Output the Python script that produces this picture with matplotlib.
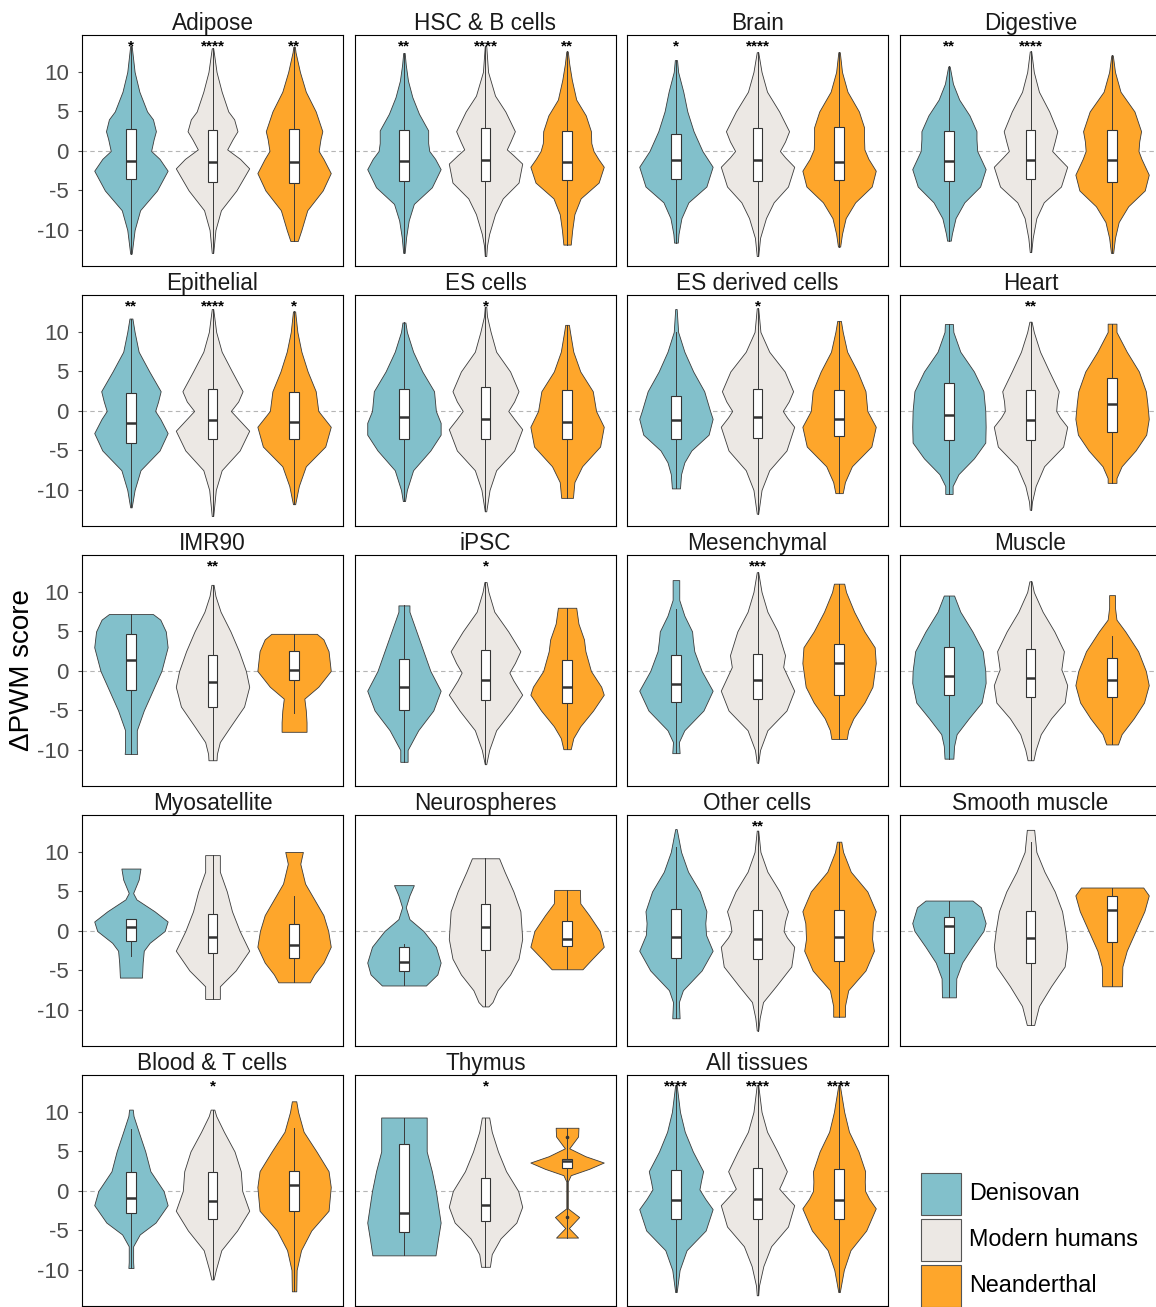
import numpy as np
import matplotlib
matplotlib.use("Agg")
import matplotlib.pyplot as plt
from matplotlib.patches import Rectangle

plt.rcParams['font.family'] = ['Liberation Sans', 'DejaVu Sans']

# ---------------- data ----------------
tissues = ["Adipose", "HSC & B cells", "Brain", "Digestive",
           "Epithelial", "ES cells", "ES derived cells", "Heart",
           "IMR90", "iPSC", "Mesenchymal", "Muscle",
           "Myosatellite", "Neurospheres", "Other cells", "Smooth muscle",
           "Blood & T cells", "Thymus", "All tissues"]
groups = ["Denisovan", "Modern humans", "Neanderthal"]
group_colors = ["#82c0cb", "#ece8e4", "#fea62b"]

# significance labels per tissue (Denisovan, Modern humans, Neanderthal)
stars = [("*", "****", "**"), ("**", "****", "**"), ("*", "****", ""), ("**", "****", ""),
         ("**", "****", "*"), ("", "*", ""), ("", "*", ""), ("", "**", ""),
         ("", "**", ""), ("", "*", ""), ("", "***", ""), ("", "", ""),
         ("", "", ""), ("", "", ""), ("", "**", ""), ("", "", ""),
         ("", "*", ""), ("", "*", ""), ("****", "****", "****")]

# density profile knots: y values (score) and relative widths
shape_y = [
    # Adipose
    [[-13.0, -10, -7.5, -5, -2.5, -1, 0, 1.5, 2.5, 4, 5, 7.5, 10, 13.3],
     [-12.9, -10, -7.5, -5, -2.2, -1, 0.2, 1.5, 2.5, 4, 5, 7.5, 10, 13.0],
     [-11.4, -10, -7.5, -5, -2.8, -1, 0, 1.5, 2.5, 5, 7.5, 10, 12.5, 13.2]],
    # HSC & B cells
    [[-12.9, -10.9, -8.8, -6.7, -4.6, -2.3, -1, 0, 1, 2.6, 4.7, 6.8, 8.9, 10.9, 12.4],
     [-13.3, -12, -10.5, -8, -6, -4, -1.6, -0.5, 0.2, 1.2, 2.5, 5, 7, 10, 13.3],
     [-11.85, -10, -8, -6, -4, -2, -1, 0, 1, 2.5, 4.5, 6.5, 9, 11, 12.6]],
    # Brain
    [[-11.6, -10.5, -8.5, -6.5, -4.5, -2, 0, 2.5, 5, 7.5, 10, 11.5],
     [-13.3, -11, -8.5, -6.5, -4.5, -2, -0.8, 0, 1.2, 2.5, 5, 7.5, 10, 12.5],
     [-12.1, -10.5, -8.5, -6.5, -4.5, -2.5, -1, 0.2, 1.5, 3, 5, 7.5, 10, 12.5]],
    # Digestive
    [[-11.35, -10.5, -8.5, -6.5, -4.5, -2.3, 0, 1.5, 2.5, 4.5, 6.5, 8.5, 10.7],
     [-12.8, -11, -8.5, -6.5, -4.5, -2, -0.8, 0, 1.2, 2.5, 5, 7.5, 10, 12.6],
     [-12.9, -11, -9, -7, -5, -3, -1, 0, 1.2, 2.5, 5, 7.5, 10, 12.1]],
    # Epithelial
    [[-12.2, -10, -7.5, -5, -2.8, -1, 0, 1.2, 2.5, 5, 7.5, 10, 11.7],
     [-13.3, -10, -7.5, -5, -2.5, -1, 0, 1.2, 2.5, 5, 7.5, 10, 12.9],
     [-11.8, -9.5, -7, -4.5, -2, 0, 2.5, 5, 7.5, 10, 12.6]],
    # ES cells
    [[-11.4, -10, -7.5, -5, -3, -1.5, 0, 2.5, 5, 7.5, 10, 11.2],
     [-12.7, -10, -7.5, -5, -2.3, -1, 0, 1.2, 2.5, 5, 7.5, 10, 12, 13.2],
     [-11.0, -9, -7, -4.5, -2, 0, 2.5, 5, 7.5, 10, 10.9]],
    # ES derived cells
    [[-9.8, -8, -6.5, -5, -3, -1, 0, 2.5, 5, 7.5, 10, 12.9],
     [-13.0, -10, -7.5, -5, -2, -0.8, 0, 1.2, 2.5, 5, 7.5, 10, 13.0],
     [-10.4, -9, -7, -4.5, -2, 0, 2.5, 5, 7.5, 10, 11.4]],
    # Heart
    [[-10.5, -9.5, -8, -6, -4, -2, 0, 2.5, 5, 7.5, 10, 11.0],
     [-12.5, -11.5, -9.5, -7, -4.5, -2, -0.8, 0, 1.2, 2.5, 5, 7.5, 10, 11.3],
     [-9.1, -8.5, -7, -5, -3, -1, 1, 2.5, 5, 7.5, 10, 11.05]],
    # IMR90
    [[-10.5, -10, -7.5, -5, -2.5, 0, 3, 5, 6.5, 7.2],
     [-11.3, -10.5, -9, -7, -4.5, -2, 0, 2.5, 5, 7.5, 9.5, 10.9],
     [-7.7, -6.5, -5, -3.5, -2, 0, 2.5, 4, 4.7]],
    # iPSC
    [[-11.5, -10, -7.5, -5, -2.5, 0, 2.5, 5, 7.5, 8.3],
     [-11.8, -10, -7.5, -5, -3, -1.2, -0.2, 1, 2.5, 5, 7.5, 10, 11.25],
     [-9.9, -8.5, -7, -5, -3, -2, 0, 2.5, 4, 6, 8.0]],
    # Mesenchymal
    [[-10.4, -9, -7.5, -5, -2.5, 0, 2.5, 4, 5, 7, 9, 11.5],
     [-11.6, -10, -7.5, -5, -2.5, 0.5, 2, 5, 7.5, 10, 12.5],
     [-8.6, -7.5, -6, -4, -2, 1, 3, 5, 7.5, 10, 11.05]],
    # Muscle
    [[-11.1, -9.5, -8, -6, -4, -1.5, 0, 2.5, 5, 7.5, 9.55],
     [-11.3, -10, -8, -6, -4, -1.8, -0.5, 0.2, 1.2, 2.5, 5, 7.5, 10, 11.35],
     [-9.3, -8, -6, -4, -1.8, 0, 2.5, 5, 6.5, 8, 9.6]],
    # Myosatellite
    [[-5.9, -4, -2.5, -1.5, 0, 1.2, 2.5, 4, 4.8, 6.5, 7.9],
     [-8.6, -7, -5, -2.5, 0, 2.5, 5, 7.5, 9.6],
     [-6.5, -5.5, -4, -2, 0, 2, 4, 6, 8.5, 10.0]],
    # Neurospheres
    [[-6.9, -5.5, -4, -2, 0, 1.5, 3, 4.5, 5.8],
     [-9.55, -9, -7.5, -5.5, -3.5, -1, 2.5, 5, 7.5, 9.2],
     [-4.85, -3.5, -2, 0, 2, 3.5, 5.2]],
    # Other cells
    [[-11.05, -9, -7.5, -5, -2.5, -0.5, 1, 2.5, 5, 7.5, 10, 12.9],
     [-12.6, -11, -9, -7, -4.5, -2, -0.8, 0, 1.2, 2.5, 5, 7.5, 10, 12.7],
     [-10.85, -9.5, -7.5, -5, -2.5, -1, 0, 1, 2.5, 5, 7.5, 10, 11.3]],
    # Smooth muscle
    [[-8.4, -6, -4, -2, 0, 1, 3, 3.85],
     [-11.9, -9.5, -7, -4.5, -2, 0, 2.5, 5, 7.5, 10, 12.8],
     [-7.0, -4.5, -2.5, 0, 2.5, 4.5, 5.5]],
    # Blood & T cells
    [[-9.75, -9, -7, -5.5, -4, -1.8, 0, 2.5, 5, 7.5, 9.5, 10.3],
     [-11.2, -10, -7.5, -5, -2.5, 0, 2.5, 5, 7.5, 9.5, 10.3],
     [-12.7, -10, -7.5, -5, -2.5, 0.5, 2.5, 5, 7.5, 10, 11.35]],
    # Thymus
    [[-8.15, -6, -4, 0, 2.5, 5, 7.5, 9.3],
     [-9.6, -8, -6, -4, -2, 0, 2.5, 5, 7.5, 9.3],
     [-5.9, -4.7, -3.3, -2.2, 1.2, 2.0, 2.8, 3.6, 4.4, 5.4, 6.9, 8.0]],
    # All tissues
    [[-12.8, -10, -7.5, -5, -2.3, -1, 0.2, 1.2, 2.5, 5, 7.5, 10, 13.4],
     [-13.2, -12, -9.5, -7, -4.5, -1.8, -0.7, 0.3, 1.2, 2.5, 5, 7.5, 10, 13.4],
     [-12.8, -10, -7.5, -5, -2.2, -1, 0, 1.2, 2.5, 5, 7.5, 10, 13.4]],
]

shape_w = [
    [[0.02, 0.10, 0.25, 0.71, 1.0, 0.78, 0.55, 0.62, 0.68, 0.6, 0.44, 0.23, 0.10, 0.02],
     [0.02, 0.08, 0.23, 0.65, 1.0, 0.75, 0.4, 0.55, 0.68, 0.59, 0.43, 0.25, 0.11, 0.02],
     [0.1, 0.2, 0.36, 0.78, 1.0, 0.8, 0.67, 0.72, 0.77, 0.59, 0.32, 0.16, 0.04, 0.02]],
    [[0.02, 0.06, 0.13, 0.27, 0.76, 1.0, 0.85, 0.69, 0.66, 0.66, 0.41, 0.23, 0.11, 0.05, 0.02],
     [0.02, 0.04, 0.1, 0.26, 0.47, 0.9, 1.0, 0.75, 0.58, 0.68, 0.8, 0.54, 0.26, 0.07, 0.02],
     [0.1, 0.14, 0.2, 0.37, 0.86, 1.0, 0.85, 0.72, 0.66, 0.65, 0.51, 0.25, 0.13, 0.06, 0.02]],
    [[0.05, 0.07, 0.15, 0.34, 0.83, 1.0, 0.72, 0.48, 0.31, 0.2, 0.06, 0.03],
     [0.02, 0.07, 0.23, 0.44, 0.83, 1.0, 0.75, 0.61, 0.75, 0.86, 0.59, 0.26, 0.11, 0.02],
     [0.03, 0.08, 0.18, 0.44, 0.89, 1.0, 0.8, 0.69, 0.68, 0.68, 0.54, 0.23, 0.08, 0.02]],
    [[0.05, 0.08, 0.18, 0.42, 0.85, 1.0, 0.77, 0.75, 0.75, 0.56, 0.28, 0.11, 0.02],
     [0.02, 0.06, 0.16, 0.36, 0.83, 1.0, 0.75, 0.59, 0.66, 0.73, 0.51, 0.23, 0.09, 0.02],
     [0.03, 0.08, 0.18, 0.44, 0.89, 1.0, 0.8, 0.72, 0.74, 0.79, 0.61, 0.23, 0.08, 0.02]],
    [[0.02, 0.1, 0.26, 0.78, 1.0, 0.8, 0.66, 0.74, 0.81, 0.5, 0.21, 0.1, 0.04],
     [0.02, 0.09, 0.25, 0.74, 1.0, 0.7, 0.5, 0.7, 0.82, 0.53, 0.25, 0.1, 0.02],
     [0.03, 0.13, 0.32, 0.85, 1.0, 0.66, 0.59, 0.37, 0.2, 0.09, 0.03]],
    [[0.03, 0.08, 0.25, 0.72, 1.0, 1.0, 0.87, 0.82, 0.5, 0.25, 0.08, 0.04],
     [0.02, 0.11, 0.29, 0.78, 1.0, 0.78, 0.62, 0.78, 0.9, 0.67, 0.29, 0.14, 0.04, 0.02],
     [0.16, 0.2, 0.41, 0.9, 1.0, 0.79, 0.7, 0.36, 0.17, 0.08, 0.05]],
    [[0.11, 0.14, 0.23, 0.42, 0.89, 1.0, 0.93, 0.77, 0.47, 0.23, 0.06, 0.02],
     [0.02, 0.11, 0.32, 0.79, 1.0, 0.8, 0.69, 0.85, 0.97, 0.74, 0.32, 0.08, 0.02],
     [0.1, 0.16, 0.35, 0.88, 1.0, 0.77, 0.72, 0.5, 0.22, 0.1, 0.05]],
    [[0.1, 0.1, 0.26, 0.68, 0.99, 1.0, 0.99, 0.94, 0.68, 0.31, 0.12, 0.11],
     [0.02, 0.04, 0.14, 0.37, 0.89, 1.0, 0.8, 0.7, 0.72, 0.77, 0.51, 0.26, 0.09, 0.03],
     [0.12, 0.12, 0.26, 0.64, 0.93, 1.0, 0.96, 0.92, 0.73, 0.4, 0.12, 0.12]],
    [[0.17, 0.16, 0.16, 0.35, 0.59, 0.83, 1.0, 0.95, 0.8, 0.6],
     [0.11, 0.12, 0.2, 0.49, 0.86, 1.0, 0.91, 0.72, 0.49, 0.22, 0.08, 0.03],
     [0.34, 0.34, 0.32, 0.28, 0.66, 1.0, 0.94, 0.8, 0.62]],
    [[0.1, 0.1, 0.39, 0.8, 1.0, 0.72, 0.53, 0.34, 0.15, 0.15],
     [0.02, 0.1, 0.29, 0.71, 1.0, 0.76, 0.65, 0.8, 0.95, 0.62, 0.24, 0.08, 0.03],
     [0.1, 0.17, 0.36, 0.71, 1.0, 0.93, 0.65, 0.5, 0.46, 0.31, 0.25]],
    [[0.1, 0.08, 0.23, 0.75, 1.0, 0.7, 0.5, 0.46, 0.44, 0.23, 0.09, 0.09],
     [0.02, 0.07, 0.27, 0.79, 1.0, 0.7, 0.75, 0.55, 0.27, 0.11, 0.02],
     [0.21, 0.25, 0.39, 0.69, 0.91, 1.0, 0.97, 0.69, 0.41, 0.19, 0.14]],
    [[0.12, 0.14, 0.21, 0.54, 0.89, 1.0, 0.99, 0.92, 0.64, 0.31, 0.14],
     [0.08, 0.14, 0.28, 0.56, 0.93, 1.0, 0.9, 0.84, 0.87, 0.91, 0.65, 0.33, 0.09, 0.03],
     [0.16, 0.26, 0.59, 0.87, 1.0, 0.92, 0.71, 0.36, 0.12, 0.08, 0.08]],
    [[0.3, 0.32, 0.35, 0.51, 0.92, 1.0, 0.64, 0.15, 0.06, 0.21, 0.26],
     [0.2, 0.2, 0.63, 1.0, 0.74, 0.53, 0.39, 0.2, 0.2],
     [0.43, 0.55, 0.8, 1.0, 0.93, 0.8, 0.55, 0.3, 0.17, 0.24]],
    [[0.6, 0.91, 1.0, 0.87, 0.53, 0.15, 0.05, 0.15, 0.27],
     [0.08, 0.19, 0.33, 0.67, 0.9, 1.0, 0.95, 0.76, 0.52, 0.37],
     [0.42, 0.69, 1.0, 0.89, 0.6, 0.36, 0.35]],
    [[0.1, 0.08, 0.19, 0.7, 1.0, 0.82, 0.8, 0.83, 0.65, 0.33, 0.14, 0.02],
     [0.02, 0.06, 0.15, 0.5, 0.92, 1.0, 0.8, 0.71, 0.75, 0.83, 0.6, 0.27, 0.08, 0.02],
     [0.16, 0.16, 0.25, 0.72, 0.95, 0.9, 0.91, 0.92, 1.0, 0.77, 0.32, 0.11, 0.06]],
    [[0.19, 0.2, 0.36, 0.64, 0.94, 1.0, 0.87, 0.64],
     [0.1, 0.23, 0.56, 0.93, 1.0, 0.95, 0.86, 0.66, 0.38, 0.16, 0.1],
     [0.27, 0.28, 0.4, 0.64, 0.88, 1.0, 0.85]],
    [[0.07, 0.06, 0.06, 0.24, 0.67, 1.0, 0.89, 0.53, 0.39, 0.21, 0.07, 0.05],
     [0.03, 0.09, 0.24, 0.67, 1.0, 0.81, 0.77, 0.6, 0.31, 0.1, 0.05],
     [0.06, 0.07, 0.19, 0.47, 0.94, 1.0, 0.94, 0.61, 0.26, 0.11, 0.06]],
    [[0.86, 0.93, 1.0, 0.87, 0.76, 0.62, 0.62, 0.62],
     [0.12, 0.17, 0.41, 0.84, 1.0, 0.89, 0.56, 0.34, 0.17, 0.1],
     [0.3, 0.05, 0.33, 0.02, 0.02, 0.1, 0.6, 1.0, 0.5, 0.06, 0.3, 0.31]],
    [[0.02, 0.1, 0.29, 0.81, 1.0, 0.8, 0.64, 0.68, 0.74, 0.46, 0.24, 0.11, 0.02],
     [0.02, 0.04, 0.16, 0.37, 0.83, 1.0, 0.78, 0.59, 0.68, 0.8, 0.54, 0.26, 0.11, 0.02],
     [0.02, 0.13, 0.31, 0.74, 1.0, 0.82, 0.71, 0.7, 0.71, 0.53, 0.27, 0.14, 0.02]],
]

# box statistics per tissue and group
box_q1 = [(-3.6, -3.95, -4.0), (-3.8, -3.8, -3.65), (-3.5, -3.8, -3.65), (-3.75, -3.5, -3.95),
          (-4.1, -3.6, -3.5), (-3.6, -3.6, -3.5), (-3.5, -3.4, -3.2), (-3.7, -3.7, -2.65),
          (-2.35, -4.5, -1.1), (-5.0, -3.7, -4.1), (-3.9, -3.55, -3.05), (-3.1, -3.3, -3.3),
          (-1.25, -2.85, -3.4), (-5.1, -2.45, -1.9), (-3.45, -3.6, -3.75), (-2.85, -4.1, -1.35),
          (-2.75, -3.6, -2.5), (-5.2, -3.85, 2.85), (-3.55, -3.6, -3.55)]
box_med = [(-1.3, -1.4, -1.4), (-1.3, -1.2, -1.35), (-1.1, -1.1, -1.4), (-1.3, -1.2, -1.2),
           (-1.5, -1.2, -1.45), (-0.8, -1.0, -1.4), (-1.1, -0.8, -1.0), (-0.55, -1.2, 0.85),
           (1.35, -1.4, 0.1), (-2.0, -1.1, -2.0), (-1.7, -1.2, 0.95), (-0.6, -0.85, -1.2),
           (0.45, -0.7, -1.75), (-3.9, 0.55, -1.05), (-0.8, -1.0, -0.7), (0.6, -0.95, 2.65),
           (-0.9, -1.3, 0.75), (-2.8, -1.75, 3.8), (-1.2, -1.0, -1.2)]
box_q3 = [(2.8, 2.6, 2.8), (2.7, 2.9, 2.5), (2.1, 2.9, 3.0), (2.55, 2.7, 2.65),
          (2.3, 2.8, 2.45), (2.75, 3.0, 2.6), (1.85, 2.8, 2.7), (3.55, 2.7, 4.2),
          (4.7, 2.0, 2.55), (1.5, 2.7, 1.45), (2.0, 2.2, 3.4), (3.05, 2.8, 1.65),
          (1.5, 2.1, 0.85), (-2.05, 3.45, 1.2), (2.8, 2.6, 2.7), (1.8, 2.55, 4.4),
          (2.35, 2.4, 2.55), (5.9, 1.6, 4.0), (2.65, 2.85, 2.75)]
whisker_lo = [(-13.0, -12.9, -11.4), (-12.9, -13.3, -11.85), (-11.6, -13.3, -12.1), (-11.35, -12.8, -12.9),
              (-12.2, -13.3, -11.8), (-11.4, -12.7, -11.0), (-9.8, -13.0, -10.4), (-10.5, -12.5, -9.1),
              (-10.5, -11.3, -5.3), (-11.5, -11.8, -9.9), (-10.4, -11.6, -8.6), (-11.1, -11.3, -9.3),
              (-3.2, -8.6, -6.5), (-6.9, -9.55, -4.85), (-11.05, -12.6, -10.85), (-8.4, -11.9, -7.0),
              (-9.75, -11.2, -12.7), (-8.15, -9.6, -5.9), (-12.8, -13.2, -12.8)]
whisker_hi = [(13.3, 13.0, 13.2), (12.4, 13.3, 12.6), (11.5, 12.5, 12.5), (10.7, 12.6, 12.1),
              (11.7, 12.9, 12.6), (11.2, 13.2, 10.9), (10.0, 13.0, 11.4), (11.0, 11.3, 11.05),
              (7.2, 10.9, 4.7), (8.3, 11.25, 8.0), (7.8, 12.5, 11.05), (9.55, 11.35, 4.45),
              (1.5, 9.6, 4.4), (-1.6, 9.2, 5.2), (10.6, 12.7, 11.3), (3.85, 11.2, 5.5),
              (7.9, 10.3, 8.0), (9.3, 9.3, 8.0), (13.4, 13.4, 13.4)]
outliers = {("Thymus", 2): [6.8, -3.3]}

yticks = [-10, -5, 0, 5, 10]
ylims = (-14.56, 14.68)

# ---------------- layout ----------------
W_PX, H_PX = 1156, 1307
fig = plt.figure(figsize=(W_PX / 100, H_PX / 100), dpi=100)
col_left = [82, 355, 627, 900]
row_top = [35, 295, 555, 815, 1075]
pw, ph = 261, 231
positions = [1, 2, 3]

for i, tissue in enumerate(tissues):
    r, c = divmod(i, 4)
    ax = fig.add_axes([col_left[c] / W_PX, 1 - (row_top[r] + ph) / H_PX, pw / W_PX, ph / H_PX])
    ax.axhline(0, color="#b5b5b5", ls=(0, (4, 3)), lw=0.8, zorder=0.5)

    vpstats = []
    for g in range(3):
        ys = np.array(shape_y[i][g], float)
        ws = np.array(shape_w[i][g], float)
        vpstats.append(dict(coords=ys, vals=ws, mean=box_med[i][g], median=box_med[i][g],
                            min=ys.min(), max=ys.max(), quantiles=[]))
    parts = ax.violin(vpstats, positions=positions, widths=0.9,
                      showmeans=False, showextrema=False, showmedians=False)
    for g, body in enumerate(parts["bodies"]):
        body.set_facecolor(group_colors[g])
        body.set_edgecolor("#3a3a3a")
        body.set_linewidth(0.6)
        body.set_joinstyle("round")
        body.set_alpha(1)
        body.set_zorder(1)

    bstats = []
    for g in range(3):
        bstats.append(dict(med=box_med[i][g], q1=box_q1[i][g], q3=box_q3[i][g],
                           whislo=whisker_lo[i][g], whishi=whisker_hi[i][g],
                           fliers=outliers.get((tissue, g), [])))
    ax.bxp(bstats, positions=positions, widths=0.12, patch_artist=True,
           showcaps=False, showfliers=True, manage_ticks=False,
           boxprops=dict(facecolor="white", edgecolor="#333333", linewidth=0.8),
           medianprops=dict(color="#333333", linewidth=1.8),
           whiskerprops=dict(color="#3a3a3a", linewidth=0.7),
           flierprops=dict(marker="o", markersize=1.6, markerfacecolor="#333333",
                           markeredgecolor="#333333", linestyle="none"),
           zorder=3)

    for g in range(3):
        if stars[i][g]:
            ax.text(positions[g], 12.75, stars[i][g], ha="center", va="baseline",
                    fontsize=11, fontweight="bold", color="black", zorder=5)

    ax.set_xlim(0.4, 3.6)
    ax.set_ylim(*ylims)
    ax.set_xticks([])
    ax.set_yticks(yticks)
    if c == 0:
        ax.set_yticklabels([str(t) for t in yticks], fontsize=16, color="#4d4d4d")
        ax.tick_params(axis="y", length=3, width=0.8, color="#4d4d4d", pad=6.5)
    else:
        ax.tick_params(axis="y", length=0, labelleft=False)
    for sp in ax.spines.values():
        sp.set_color("black")
        sp.set_linewidth(0.8)
    ax.set_title(tissue, fontsize=16.3, color="#1a1a1a", pad=3)

fig.text(22 / W_PX, 1 - 670.5 / H_PX, "ΔPWM score", rotation=90,
         ha="center", va="center", fontsize=20, color="black")

# legend
leg = fig.add_axes([0, 0, 1, 1])
leg.set_xlim(0, W_PX)
leg.set_ylim(H_PX, 0)
leg.axis("off")
key_tops = [1173, 1219, 1265]
for g, name in enumerate(groups):
    leg.add_patch(Rectangle((921, key_tops[g]), 40, 42, facecolor=group_colors[g],
                            edgecolor="#555555", linewidth=0.8))
    leg.text(969, key_tops[g] + 21, name, ha="left", va="center", fontsize=16.8, color="black")

fig.savefig("out.png", dpi=100)
